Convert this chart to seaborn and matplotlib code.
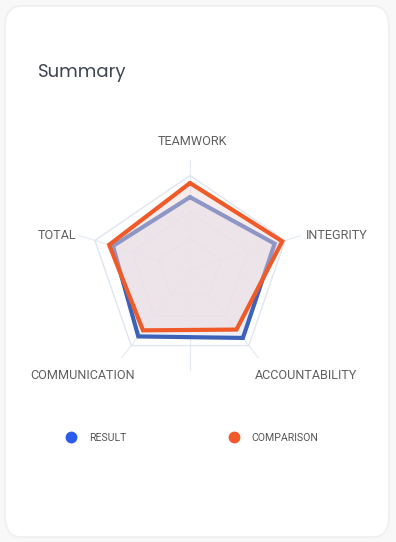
import numpy as np
import pandas as pd
import seaborn as sns
import matplotlib.pyplot as plt
from matplotlib.lines import Line2D
from matplotlib.patches import FancyBboxPatch

categories = ['TEAMWORK', 'INTEGRITY', 'ACCOUNTABILITY', 'COMMUNICATION', 'TOTAL']
result = [77, 89, 90, 88, 81]
comparison = [92, 97, 79, 80, 85]
ring_levels = [33, 61, 100]
max_value = 100

sns.set_theme(style='white')
plt.rcParams['font.family'] = ['Roboto', 'DejaVu Sans']

n = len(categories)
angles = np.linspace(0, 2 * np.pi, n, endpoint=False)
# closing point at 2*pi so seaborn does not merge it with theta=0
closed = np.append(angles, 2 * np.pi)

rows = []
for name, vals in [('RESULT', result), ('COMPARISON', comparison)]:
    for t, v in zip(closed, vals + vals[:1]):
        rows.append({'series': name, 'theta': t, 'value': v / max_value})
df = pd.DataFrame(rows)

fig = plt.figure(figsize=(3.96, 5.42), dpi=100, facecolor='#f8f8f8')

# card behind everything
card = FancyBboxPatch((5 / 396, 5 / 542), 384 / 396, 531 / 542,
                      boxstyle='round,pad=0,rounding_size=0.04',
                      transform=fig.transFigure, facecolor='white',
                      edgecolor='#efefef', linewidth=1.2, zorder=-5)
fig.patches.append(card)

fig.text(38 / 396, 1 - 73 / 542, 'Summary', fontsize=13, color='#3d4650',
         family=['Poppins', 'Lato', 'DejaVu Sans'], va='center', ha='left')

ax = fig.add_axes([90 / 396, 1 - 363.5 / 542, 200 / 396, 188 / 542], projection='polar')
ax.set_theta_offset(np.pi / 2)
ax.set_theta_direction(-1)
ax.set_aspect('auto')
ax.patch.set_visible(False)
ax.grid(False)
ax.spines['polar'].set_visible(False)

# spokes
for a in angles:
    ax.plot([a, a], [0, 1.16], color='#e4eaf2', lw=0.8, zorder=1, clip_on=False)
ax.plot([np.pi, np.pi], [0, 1.07], color='#e4eaf2', lw=0.8, zorder=1, clip_on=False)

# pentagon rings
for lvl in ring_levels:
    col = '#dfe6f0' if lvl == max_value else '#e6e2e5'
    ax.plot(closed, [lvl / max_value] * (n + 1), color=col, lw=1.0, zorder=1, clip_on=False)

res = df[df.series == 'RESULT']
comp = df[df.series == 'COMPARISON']

ax.fill(res.theta, res.value, color='#e8edf8', alpha=0.8, lw=0, zorder=2)
sns.lineplot(data=res, x='theta', y='value', sort=False, color='#3d63b8',
             linewidth=3.0, ax=ax, legend=False, zorder=3)
ax.fill(comp.theta, comp.value, color='#efd6d6', alpha=0.45, lw=0, zorder=4)
sns.lineplot(data=comp, x='theta', y='value', sort=False, color='#f05a28',
             linewidth=3.0, ax=ax, legend=False, zorder=5)
for line in ax.lines[-2:]:
    line.set_solid_joinstyle('miter')
    line.set_clip_on(False)

ax.set_xticks([])
ax.set_yticks([])
ax.set_xlabel('')
ax.set_ylabel('')
ax.set_ylim(0, 1)

offsets = [(3, 34), (52, 5), (57, -30), (-49, -30), (-38, 5)]
for a, lab, off in zip(angles, categories, offsets):
    ax.annotate(lab, xy=(a, 1.0), xytext=off, textcoords='offset pixels',
                ha='center', va='center', fontsize=9.1, color='#606060')

handles = [Line2D([], [], marker='o', ls='', markersize=7.5, color='#2a5bea'),
           Line2D([], [], marker='o', ls='', markersize=7.5, color='#f2592b')]
fig.legend(handles, ['RESULT', 'COMPARISON'], ncol=2, frameon=False,
           loc='center left', bbox_to_anchor=(66 / 396, 1 - 438 / 542),
           borderaxespad=0, borderpad=0, handlelength=1.0, handletextpad=1.15,
           columnspacing=9.7, fontsize=7.6, labelcolor='#555555')

fig.savefig('out.png', dpi=100, facecolor=fig.get_facecolor())
